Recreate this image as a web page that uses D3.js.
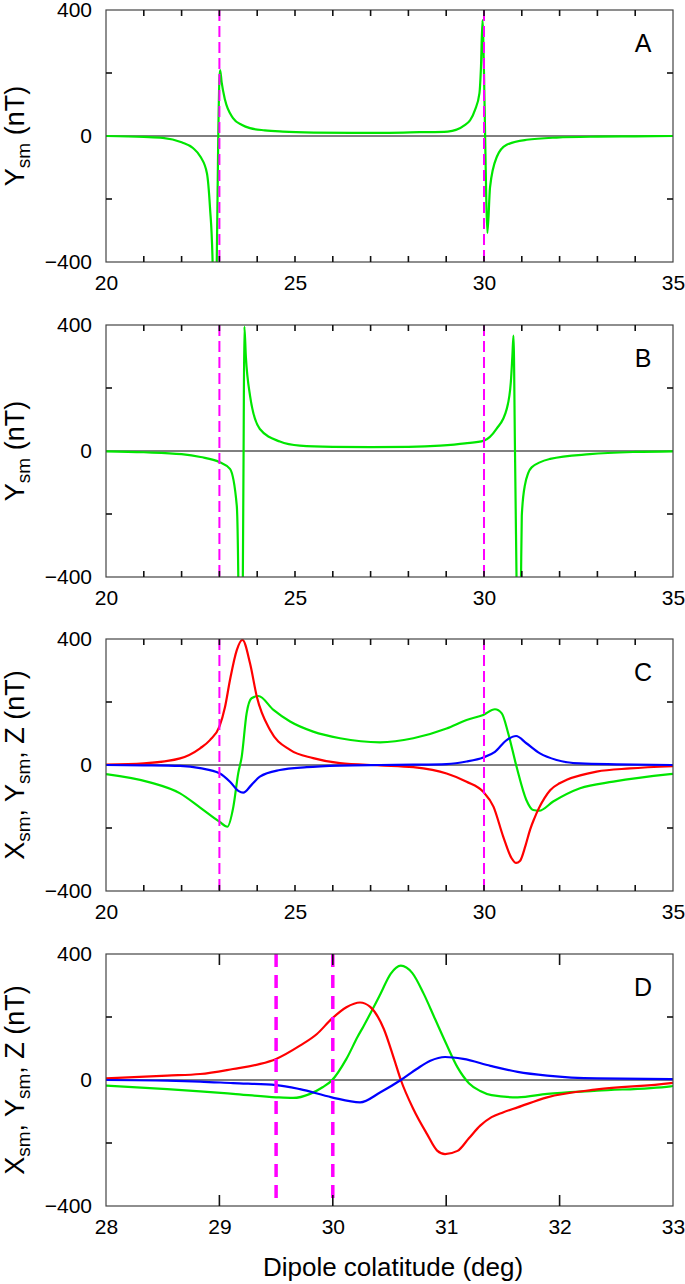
<!DOCTYPE html>
<html><head><meta charset="utf-8">
<script src="https://cdn.jsdelivr.net/npm/d3@7"></script>
<style>
body{margin:0;background:#fff}
text{font-family:"Liberation Sans",Arial,Helvetica,sans-serif;fill:#000}
</style>
</head><body>
<svg id="chart" width="685" height="1284"></svg>
<script>
// ---------------- DATA ----------------
// Panel A : Ysm (green)
const colatA = [20,21,21.5,22,22.3,22.5,22.67,22.75,22.82,22.86,22.9,22.93,22.97,23.0,23.02,23.06,23.15,23.36,23.6,23.81,24.2,24.68,25.5,26.5,27.5,28.3,29.04,29.5,29.76,29.88,29.92,29.96,30.0,30.03,30.06,30.09,30.16,30.34,30.6,31.13,31.92,33,34,35];
const ysmA   = [0,-3,-6,-20,-38,-66,-118,-225,-400,-800,-800,-400,0,180,209,170,114,57,35,25,18,14,11,10,10,12,14,35,82,136,219,368,200,0,-200,-308,-162,-66,-28,-12,-5,-2,-1,0];
// Panel B : Ysm (green)
const colatB = [20,21,22,22.5,23,23.28,23.46,23.5,23.53,23.59,23.62,23.64,23.66,23.7,23.81,24.07,24.6,25.13,26,27,28,28.84,29.5,30,30.33,30.6,30.71,30.75,30.78,30.82,30.86,30.9,30.95,30.98,31.0,31.08,31.26,31.75,32.8,34,35];
const ysmB   = [-1,-4,-10,-19,-35,-57,-174,-400,-800,-800,-400,0,395,300,176,70,30,17,13,12,13,17,24,33,70,133,219,300,366,0,-400,-800,-800,-400,-205,-110,-52,-25,-10,-3,-1];
// Panel C : Xsm (red), Ysm (green), Z (blue)
const colatCx = [20,21,21.96,22.49,22.75,23.0,23.15,23.28,23.46,23.61,23.81,23.99,24.34,24.87,25.48,26.19,27.25,28.13,29.01,29.54,29.98,30.25,30.51,30.73,30.85,30.95,31.1,31.22,31.33,31.44,31.6,31.75,32.0,32.19,32.98,33.86,35];
const xsmC    = [1,5,21,53,79,122,185,270,365,397,323,217,111,48,22,6,-1,-7,-27,-53,-85,-132,-228,-296,-311,-305,-255,-205,-170,-140,-105,-80,-58,-47,-21,-11,-4];
const colatCy = [20,21.16,21.96,22.49,23.0,23.21,23.37,23.5,23.59,23.72,23.85,24.03,24.43,24.87,25.48,26.19,27.25,28.13,29.01,29.54,29.98,30.29,30.47,30.64,30.86,31.12,31.3,31.46,31.83,32.54,33.42,34.92,35];
const ysmC    = [-29,-55,-90,-135,-180,-196,-132,-25,26,164,212,219,175,138,106,85,72,85,116,143,159,177,164,101,-5,-111,-143,-145,-116,-74,-53,-29,-28];
const colatCz = [20,21,21.96,22.49,23.0,23.28,23.5,23.63,23.85,24.07,24.6,25.31,26.19,27.25,28.13,29.01,29.54,29.98,30.29,30.6,30.85,31.12,31.48,31.92,32.54,33.5,35];
const zC      = [0,-1,-3,-10,-26,-53,-82,-88,-63,-37,-16,-7,-2,0,1,3,11,24,42,79,92,69,37,16,5,2,0];
// Panel D : Xsm (red), Ysm (green), Z (blue)
const colatDx = [28,28.54,28.83,29.12,29.36,29.5,29.71,29.86,29.99,30.12,30.24,30.33,30.45,30.54,30.6,30.71,30.83,30.92,30.99,31.1,31.2,31.3,31.4,31.5,31.63,31.89,32.33,32.98,33];
const xsmD    = [5,14,19,35,51,67,109,146,194,231,246,232,162,67,0,-92,-171,-224,-235,-225,-185,-145,-118,-103,-87,-55,-30,-10,-9];
const colatDy = [28,28.54,28.83,29.12,29.5,29.65,29.8,29.91,29.99,30.12,30.22,30.27,30.42,30.51,30.6,30.7,30.8,30.9,31.0,31.1,31.2,31.3,31.4,31.63,31.89,32.33,32.98,33];
const ysmD    = [-18,-29,-36,-44,-55,-57,-44,-23,-2,67,138,170,273,337,363,340,275,195,115,40,-10,-35,-48,-55,-44,-34,-20,-19];
const colatDz = [28,28.54,28.83,29.12,29.5,29.71,29.99,30.24,30.42,30.6,30.74,30.86,30.99,31.15,31.39,31.63,31.89,32.33,32.98,33];
const zD      = [0,-2,-5,-10,-16,-29,-55,-71,-39,0,35,61,73,67,45,26,14,5,3,3];

// boundaries (dashed lines)
const boundsABC = [23, 30];
const boundsD   = [29.5, 30];
// tick labels
const xTickLabelsABC = [20,25,30,35];
const xTickLabelsD   = [28,29,30,31,32,33];
const yTickLabels    = [-400,0,400];
const yMinorTicks    = [-200,200];
const panelLetters   = ["A","B","C","D"];

// ---------------- LAYOUT ----------------
const svg = d3.select("#chart");
const L = 106, R = 673, H = 252;
const tops = [10, 325, 639, 954];
const colors = {x:"#ff0000", y:"#00e600", z:"#0000ff", bound:"#ff00ff"};
const fmt = d => d < 0 ? "\u2212" + Math.abs(d) : String(d);

const panels = [
  {letter:panelLetters[0], xd:[20,35], bounds:boundsABC, series:[{x:colatA,y:ysmA,c:colors.y}], yl:[["Y","sm"],[" (nT)"]], minorX:d3.range(21,35), labelsX:xTickLabelsABC, tick:5, dashW:2, dash:"11,5"},
  {letter:panelLetters[1], xd:[20,35], bounds:boundsABC, series:[{x:colatB,y:ysmB,c:colors.y}], yl:[["Y","sm"],[" (nT)"]], minorX:d3.range(21,35), labelsX:xTickLabelsABC, tick:5, dashW:2, dash:"11,5"},
  {letter:panelLetters[2], xd:[20,35], bounds:boundsABC, series:[{x:colatCy,y:ysmC,c:colors.y},{x:colatCx,y:xsmC,c:colors.x},{x:colatCz,y:zC,c:colors.z}], yl:[["X","sm"],[", Y","sm"],[", Z (nT)"]], minorX:d3.range(21,35), labelsX:xTickLabelsABC, tick:5, dashW:2, dash:"11,5"},
  {letter:panelLetters[3], xd:[28,33], bounds:boundsD, series:[{x:colatDy,y:ysmD,c:colors.y},{x:colatDx,y:xsmD,c:colors.x},{x:colatDz,y:zD,c:colors.z}], yl:[["X","sm"],[", Y","sm"],[", Z (nT)"]], minorX:d3.range(29,33), labelsX:xTickLabelsD, tick:10, dashW:3.5, dash:"13,8"}
];

panels.forEach((p, i) => {
  const top = tops[i], bot = top + H;
  const x = d3.scaleLinear().domain(p.xd).range([L, R]);
  const y = d3.scaleLinear().domain([-400, 400]).range([bot, top]);
  const g = svg.append("g");

  const cid = "clip" + i;
  svg.append("clipPath").attr("id", cid).append("rect")
    .attr("x", L).attr("y", top).attr("width", R - L).attr("height", H);

  // zero line
  g.append("line").attr("x1", L).attr("x2", R).attr("y1", y(0)).attr("y2", y(0))
    .attr("stroke", "#000").attr("stroke-width", 1);

  // curves
  const plot = g.append("g").attr("clip-path", `url(#${cid})`);
  p.series.forEach(s => {
    const pts = s.x.map((v, k) => [v, s.y[k]]);
    plot.append("path").datum(pts)
      .attr("fill", "none").attr("stroke", s.c).attr("stroke-width", 2.2)
      .attr("stroke-linejoin", "round")
      .attr("d", d3.line().x(d => x(d[0])).y(d => y(d[1])).curve(d3.curveMonotoneX));
  });

  // boundaries
  plot.selectAll(".b").data(p.bounds).enter().append("line")
    .attr("x1", d => x(d)).attr("x2", d => x(d)).attr("y1", top).attr("y2", bot)
    .attr("stroke", colors.bound).attr("stroke-width", p.dashW).attr("stroke-dasharray", p.dash);

  // frame
  g.append("rect").attr("x", L).attr("y", top).attr("width", R - L).attr("height", H)
    .attr("fill", "none").attr("stroke", "#444").attr("stroke-width", 1.2);

  // inner ticks (drawn from the scales)
  const tk = g.append("g").attr("stroke", "#111").attr("stroke-width", 1.6);
  [[bot, -1], [top, 1]].forEach(([yy, dir]) => {
    tk.selectAll(null).data(p.minorX).enter().append("line")
      .attr("x1", d => x(d)).attr("x2", d => x(d))
      .attr("y1", yy).attr("y2", yy + dir * (p.tick + 1));
  });
  [[L, 1], [R, -1]].forEach(([xx, dir]) => {
    tk.selectAll(null).data(yMinorTicks).enter().append("line")
      .attr("y1", d => y(d)).attr("y2", d => y(d))
      .attr("x1", xx).attr("x2", xx + dir * 6);
  });

  // tick labels
  const labStyle = sel => { sel.select(".domain").remove(); sel.selectAll("line").remove();
    sel.selectAll("text").attr("fill", "#000").style("font-size", "21px").style("font-family", '"Liberation Sans",Arial,sans-serif'); };
  g.append("g").attr("transform", `translate(0,${bot})`)
    .call(d3.axisBottom(x).tickValues(p.labelsX).tickSize(0).tickPadding(13).tickFormat(fmt)).call(labStyle);
  g.append("g").attr("transform", `translate(${L},0)`)
    .call(d3.axisLeft(y).tickValues(yTickLabels).tickSize(0).tickPadding(14).tickFormat(fmt)).call(labStyle);

  // panel letter
  g.append("text").attr("x", 643).attr("y", top + 42).attr("text-anchor", "middle")
    .style("font-size", "25px").text(p.letter);

  // y label
  const t = g.append("text").attr("transform", `translate(24,${top + H / 2}) rotate(-90)`)
    .attr("text-anchor", "middle").style("font-size", "27px");
  let shifted = false;
  p.yl.forEach(part => {
    const main = t.append("tspan").text(part[0]);
    if (shifted) { main.attr("dy", -6); shifted = false; }
    if (part[1]) {
      t.append("tspan").attr("dy", 6).style("font-size", "19px").text(part[1]);
      shifted = true;
    }
  });
});

// x axis title
svg.append("text").attr("x", 393).attr("y", 1276).attr("text-anchor", "middle")
  .style("font-size", "26px").text("Dipole colatitude (deg)");
</script>
</body></html>
